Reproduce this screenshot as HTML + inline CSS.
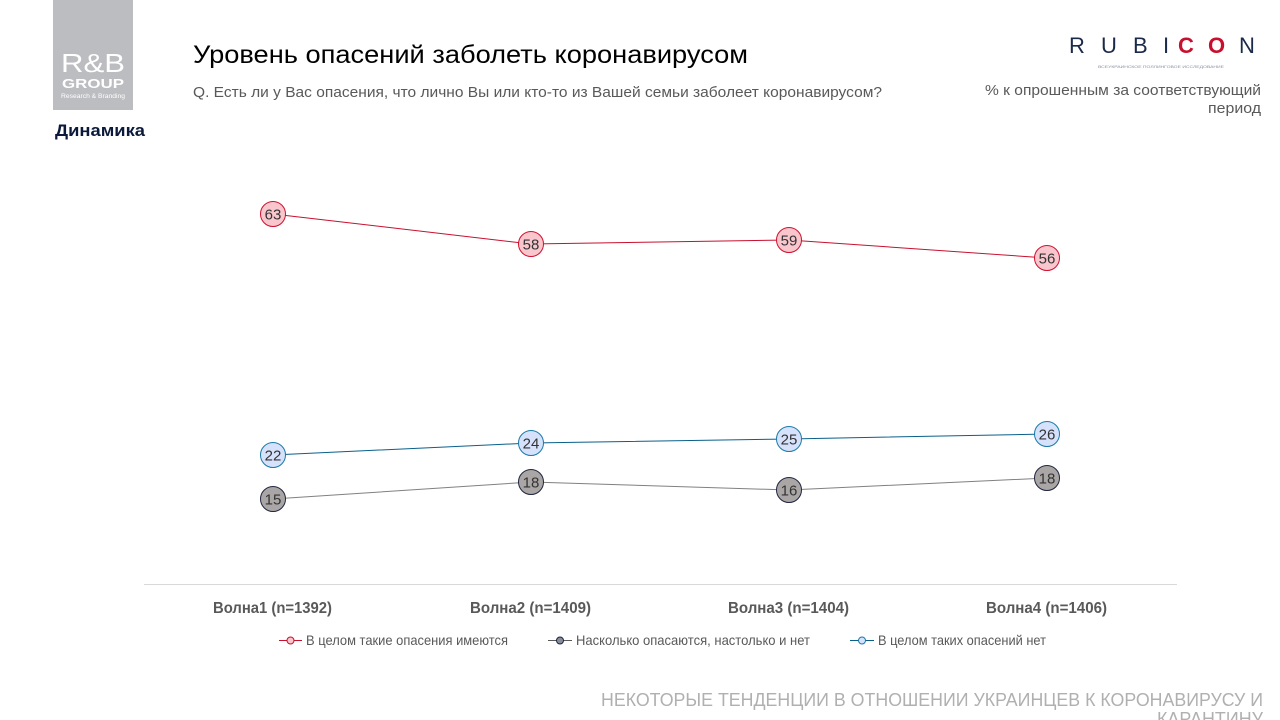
<!DOCTYPE html>
<html>
<head>
<meta charset="utf-8">
<style>
html,body{margin:0;padding:0;background:#fff;}
body{width:1280px;height:720px;overflow:hidden;}
svg{display:block;font-family:"Liberation Sans","DejaVu Sans",sans-serif;}
</style>
</head>
<body>
<svg width="1280" height="720" viewBox="0 0 1280 720" xmlns="http://www.w3.org/2000/svg">
  <!-- Logo -->
  <rect x="53" y="0" width="80" height="110" fill="#bcbdc0"/>
  <text x="93" y="72" text-anchor="middle" font-size="26" fill="#ffffff" textLength="64" lengthAdjust="spacingAndGlyphs">R&amp;B</text>
  <text x="93" y="88" text-anchor="middle" font-size="13" font-weight="bold" fill="#ffffff" textLength="62" lengthAdjust="spacingAndGlyphs">GROUP</text>
  <text x="93" y="98" text-anchor="middle" font-size="6" fill="#ffffff" textLength="64" lengthAdjust="spacingAndGlyphs">Research &amp; Branding</text>

  <text x="55" y="136" font-size="17" font-weight="bold" fill="#0b1a3a" textLength="90" lengthAdjust="spacingAndGlyphs">Динамика</text>

  <!-- Title -->
  <text x="193" y="63" font-size="25" fill="#000" textLength="555" lengthAdjust="spacingAndGlyphs">Уровень опасений заболеть коронавирусом</text>
  <text x="193" y="97" font-size="14.5" fill="#595959" textLength="689" lengthAdjust="spacingAndGlyphs">Q. Есть ли у Вас опасения, что лично Вы или кто-то из Вашей семьи заболеет коронавирусом?</text>

  <!-- RUBICON -->
  <g font-size="22" fill="#1b2a4a">
    <text x="1069" y="53">R</text>
    <text x="1101" y="53">U</text>
    <text x="1133" y="53">B</text>
    <text x="1163" y="53">I</text>
    <text x="1178" y="53" fill="#c8102e" font-weight="bold">C</text>
    <text x="1208" y="53" fill="#c8102e" font-weight="bold">O</text>
    <text x="1239" y="53">N</text>
  </g>
  <text x="1098" y="68" font-size="4" fill="#8a8fa5" textLength="126" lengthAdjust="spacingAndGlyphs">ВСЕУКРАИНСКОЕ ПОЛЛИНГОВОЕ ИССЛЕДОВАНИЕ</text>

  <text x="1261" y="95" text-anchor="end" font-size="14.5" fill="#595959" textLength="276" lengthAdjust="spacingAndGlyphs">% к опрошенным за соответствующий</text>
  <text x="1261" y="113" text-anchor="end" font-size="14.5" fill="#595959" textLength="53" lengthAdjust="spacingAndGlyphs">период</text>

  <!-- Axis line -->
  <line x1="144" y1="584.5" x2="1177" y2="584.5" stroke="#d9d9d9" stroke-width="1"/>

  <!-- Axis labels -->
  <g font-size="16" font-weight="bold" fill="#595959">
    <text x="213" y="613" textLength="119" lengthAdjust="spacingAndGlyphs">Волна1 (n=1392)</text>
    <text x="470" y="613" textLength="121" lengthAdjust="spacingAndGlyphs">Волна2 (n=1409)</text>
    <text x="728" y="613" textLength="121" lengthAdjust="spacingAndGlyphs">Волна3 (n=1404)</text>
    <text x="986" y="613" textLength="121" lengthAdjust="spacingAndGlyphs">Волна4 (n=1406)</text>
  </g>

  <!-- Series lines -->
  <polyline points="273,214 531,244 789,240 1047,258" fill="none" stroke="#c8102e" stroke-width="1"/>
  <polyline points="273,455 531,443 789,439 1047,434" fill="none" stroke="#0a5f8a" stroke-width="1"/>
  <polyline points="273,499 531,482 789,490 1047,478" fill="none" stroke="#808080" stroke-width="1"/>

  <!-- Markers -->
  <g stroke-width="1">
    <g fill="#f9c6cd" stroke="#d0102e">
      <circle cx="273" cy="214" r="12.5"/>
      <circle cx="531" cy="244" r="12.5"/>
      <circle cx="789" cy="240" r="12.5"/>
      <circle cx="1047" cy="258" r="12.5"/>
    </g>
    <g fill="#d6e2fb" stroke="#1a7aa8">
      <circle cx="273" cy="455" r="12.5"/>
      <circle cx="531" cy="443" r="12.5"/>
      <circle cx="789" cy="439" r="12.5"/>
      <circle cx="1047" cy="434" r="12.5"/>
    </g>
    <g fill="#aaa6a5" stroke="#1f2540">
      <circle cx="273" cy="499" r="12.5"/>
      <circle cx="531" cy="482" r="12.5"/>
      <circle cx="789" cy="490" r="12.5"/>
      <circle cx="1047" cy="478" r="12.5"/>
    </g>
  </g>

  <!-- Data labels -->
  <g font-size="15" fill="#333" text-anchor="middle">
    <text x="273" y="219.5">63</text>
    <text x="531" y="249.5">58</text>
    <text x="789" y="245.5">59</text>
    <text x="1047" y="263.5">56</text>
    <text x="273" y="460.5">22</text>
    <text x="531" y="448.5">24</text>
    <text x="789" y="444.5">25</text>
    <text x="1047" y="439.5">26</text>
    <text x="273" y="504.5">15</text>
    <text x="531" y="487.5">18</text>
    <text x="789" y="495.5">16</text>
    <text x="1047" y="483.5">18</text>
  </g>

  <!-- Legend -->
  <g font-size="14" fill="#595959">
    <line x1="279" y1="640.5" x2="302" y2="640.5" stroke="#c8102e" stroke-width="1"/>
    <circle cx="290.5" cy="640.5" r="3.5" fill="#f9c6cd" stroke="#c8102e" stroke-width="1"/>
    <text x="306" y="645" textLength="202" lengthAdjust="spacingAndGlyphs">В целом такие опасения имеются</text>

    <line x1="548" y1="640.5" x2="572" y2="640.5" stroke="#595959" stroke-width="1"/>
    <circle cx="560" cy="640.5" r="3.5" fill="#8a8d9a" stroke="#1f2540" stroke-width="1"/>
    <text x="576" y="645" textLength="234" lengthAdjust="spacingAndGlyphs">Насколько опасаются, настолько и нет</text>

    <line x1="850" y1="640.5" x2="874" y2="640.5" stroke="#0a5f8a" stroke-width="1"/>
    <circle cx="862" cy="640.5" r="3.5" fill="#d6e2fb" stroke="#1a7aa8" stroke-width="1"/>
    <text x="878" y="645" textLength="168" lengthAdjust="spacingAndGlyphs">В целом таких опасений нет</text>
  </g>

  <!-- Footer -->
  <text x="1263" y="706" text-anchor="end" font-size="18" fill="#b0b0b0" textLength="662" lengthAdjust="spacingAndGlyphs">НЕКОТОРЫЕ ТЕНДЕНЦИИ В ОТНОШЕНИИ УКРАИНЦЕВ К КОРОНАВИРУСУ И</text>
  <text x="1263" y="725" text-anchor="end" font-size="18" fill="#b0b0b0" textLength="106" lengthAdjust="spacingAndGlyphs">КАРАНТИНУ</text>
</svg>
</body>
</html>
